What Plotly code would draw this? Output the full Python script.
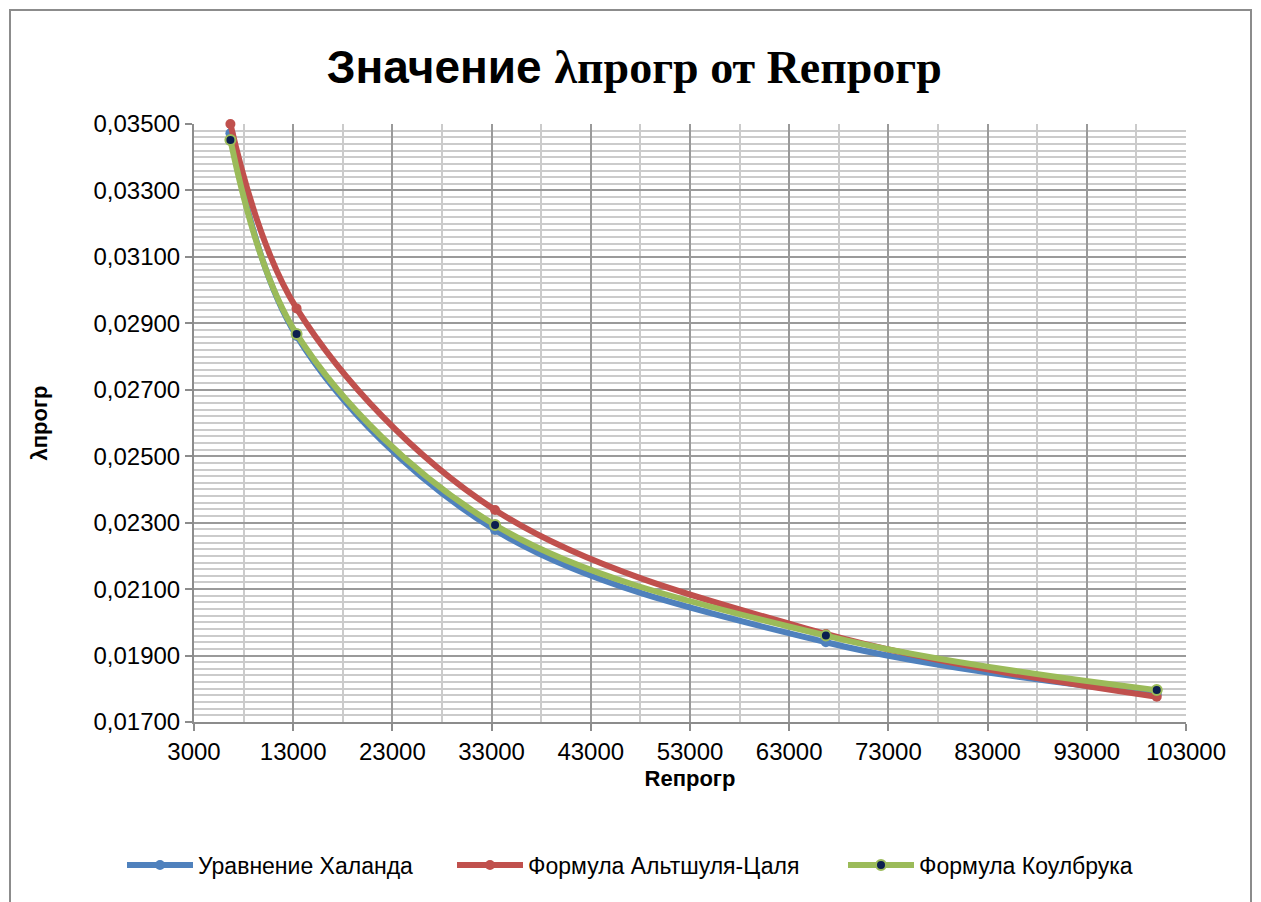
import plotly.graph_objects as go

# Reynolds numbers (Reпрогр) and friction factor values (λпрогр)
re_values = [6670, 13340, 33350, 66700, 100050]
haaland = [0.03472, 0.02862, 0.02278, 0.01940, 0.01784]
altshul = [0.03500, 0.02945, 0.02338, 0.01965, 0.01776]
colebrook = [0.03452, 0.02868, 0.02293, 0.01960, 0.01796]

series_names = ["Уравнение Халанда", "Формула Альтшуля-Цаля", "Формула Коулбрука"]

W, H = 1261, 902
L, R, T, B = 194, 75, 124, 180
pw, ph = W - L - R, H - T - B

def px_x(x):
    return (x - L) / pw

def px_y(y):
    return (H - B - y) / ph

SANS = "Liberation Sans, Arial, sans-serif"

fig = go.Figure()

fig.add_trace(go.Scatter(
    x=re_values, y=haaland, name=series_names[0], mode="lines+markers",
    line=dict(color="#4F81BD", width=6, shape="spline", smoothing=1),
    marker=dict(symbol="circle", size=10, color="#4F81BD"),
    cliponaxis=False, legend="legend",
))
fig.add_trace(go.Scatter(
    x=re_values, y=altshul, name=series_names[1], mode="lines+markers",
    line=dict(color="#C0504D", width=6, shape="spline", smoothing=1),
    marker=dict(symbol="circle", size=10, color="#C0504D"),
    cliponaxis=False, legend="legend2",
))
fig.add_trace(go.Scatter(
    x=re_values, y=colebrook, name=series_names[2], mode="lines+markers",
    line=dict(color="#9BBB59", width=6, shape="spline", smoothing=1),
    marker=dict(symbol="circle", size=10, color="#0B1F4F",
                line=dict(color="#9BBB59", width=2)),
    cliponaxis=False, legend="legend3",
))

tick_font = dict(family=SANS, size=24, color="#000000")
title_font = dict(family=SANS, size=22, color="#000000")

def legend_at(x_left):
    return dict(
        orientation="h", x=px_x(x_left), xanchor="left", y=px_y(865), yanchor="middle",
        font=dict(family=SANS, size=23, color="#000000"),
        itemwidth=66, bgcolor="rgba(0,0,0,0)",
    )

fig.update_layout(
    width=W, height=H,
    margin=dict(l=L, r=R, t=T, b=B),
    paper_bgcolor="white", plot_bgcolor="white",
    separators=", ",
    title=dict(
        text="<b>Значение </b><span style='font-family:Liberation Serif, Times New Roman, serif'><b>λпрогр от Reпрогр</b></span>",
        font=dict(family=SANS, size=46, color="#000000"),
        x=0.503, xanchor="center", y=1 - 67 / H, yanchor="middle",
    ),
    xaxis=dict(
        range=[3000, 103000], tick0=3000, dtick=10000, tickformat="d",
        showgrid=True, gridcolor="#9A9A9A", gridwidth=2,
        showline=True, linecolor="#8C8C8C", linewidth=2,
        ticks="outside", ticklen=7, tickwidth=2, tickcolor="#8C8C8C",
        tickfont=tick_font, zeroline=False,
        minor=dict(tick0=3000, dtick=5000, showgrid=True, gridcolor="#CBCBCB", gridwidth=1.5),
        title=dict(text="<b>Reпрогр</b>", standoff=7, font=title_font),
    ),
    yaxis=dict(
        range=[0.017, 0.035], tick0=0.017, dtick=0.002, tickformat=".5f",
        showgrid=True, gridcolor="#9A9A9A", gridwidth=2,
        showline=True, linecolor="#8C8C8C", linewidth=2,
        ticks="outside", ticklen=7, tickwidth=2, tickcolor="#8C8C8C",
        tickfont=tick_font, zeroline=False,
        minor=dict(tick0=0.017, dtick=0.0002, showgrid=True, gridcolor="#CBCBCB", gridwidth=1.5),
        title=dict(text="<b>λпрогр</b>", standoff=40, font=title_font),
    ),
    legend=legend_at(122),
    legend2=legend_at(452),
    legend3=legend_at(843),
    showlegend=True,
)

# chart outline
fig.add_shape(type="rect", xref="paper", yref="paper",
              x0=px_x(10), x1=px_x(1251), y0=px_y(905), y1=px_y(10),
              line=dict(color="#8C8C8C", width=2), fillcolor="rgba(0,0,0,0)", layer="below")

fig.write_html("out.html")
